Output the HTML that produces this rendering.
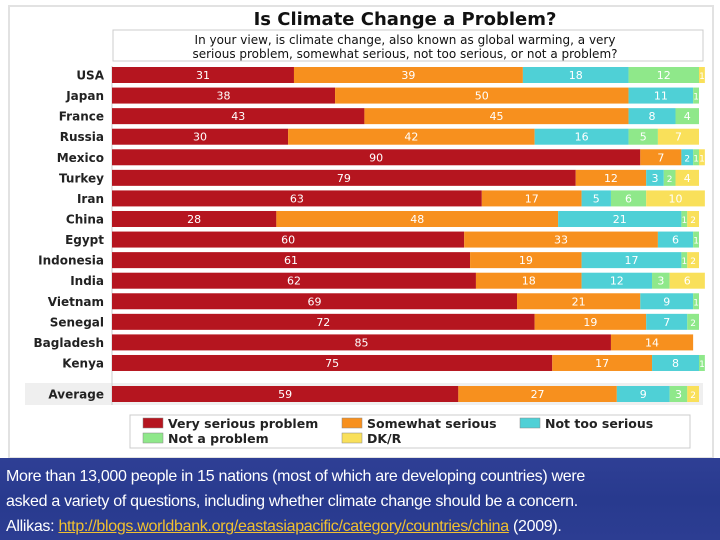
<!DOCTYPE html>
<html><head><meta charset="utf-8"><style>
html,body{margin:0;padding:0;width:720px;height:540px;overflow:hidden;background:#fff;font-family:"DejaVu Sans","Liberation Sans",sans-serif}
#card{position:absolute;left:8px;top:5px;width:702px;height:450px;border:2px solid #e2e2e2;background:#fff}
#band{position:absolute;left:0;top:458px;width:720px;height:82px;background:linear-gradient(180deg,#2f3f95,#283a8e 50%,#2c3d92)}
#band p{margin:0;position:absolute;left:6px;top:6px;color:#fff;font-family:"Liberation Sans",sans-serif;font-size:16px;line-height:25px;letter-spacing:-0.3px}
#band a{color:#f0c030;text-decoration:underline}
</style></head><body>
<div id="card"></div>
<svg id="chart" width="720" height="458" style="position:absolute;left:0;top:0">
<text x="405" y="25" text-anchor="middle" font-size="18" font-weight="bold" fill="#111">Is Climate Change a Problem?</text>
<rect x="113" y="30" width="590" height="31" fill="#fff" stroke="#ccc"/>
<text x="405" y="44" text-anchor="middle" font-size="12" fill="#111">In your view, is climate change, also known as global warming, a very</text>
<text x="405" y="58" text-anchor="middle" font-size="12" fill="#111">serious problem, somewhat serious, not too serious, or not a problem?</text>
<rect x="25" y="383" width="678" height="22" fill="#efefef"/>
<line x1="112" y1="66" x2="112" y2="405" stroke="#ccc"/>
<g id="bars"></g>
<rect x="130" y="415" width="560" height="33" fill="#fff" stroke="#ccc"/>
<g id="legend"></g>
</svg>
<div id="band"><p>More than 13,000 people in 15 nations (most of which are developing countries) were<br>asked a variety of questions, including whether climate change should be a concern.<br>Allikas: <a href="#">http://blogs.worldbank.org/eastasiapacific/category/countries/china</a> (2009).</p></div>
<script>
const countries=["USA","Japan","France","Russia","Mexico","Turkey","Iran","China","Egypt","Indonesia","India","Vietnam","Senegal","Bagladesh","Kenya","Average"];
const verySerious=[31,38,43,30,90,79,63,28,60,61,62,69,72,85,75,59];
const somewhatSerious=[39,50,45,42,7,12,17,48,33,19,18,21,19,14,17,27];
const notTooSerious=[18,11,8,16,2,3,5,21,6,17,12,9,7,0,8,9];
const notAProblem=[12,1,4,5,1,2,6,1,1,1,3,1,2,0,1,3];
const dkR=[1,0,0,7,1,4,10,2,0,2,6,0,0,0,0,2];
const seriesNames=["Very serious problem","Somewhat serious","Not too serious","Not a problem","DK/R"];
const series=[verySerious,somewhatSerious,notTooSerious,notAProblem,dkR];
const colors=["#b5151f","#f7901e","#4fd0d6","#8fe88a","#f9e05a"];
const NS="http://www.w3.org/2000/svg";
const x0=112,ppu=5.87;
const xs=v=>x0+v*ppu;
const yRow=i=>i<15?75+i*20.57:394;
const g=document.getElementById('bars');
function mk(t,a){const e=document.createElementNS(NS,t);for(const k in a)e.setAttribute(k,a[k]);return e;}
countries.forEach((c,i)=>{
  const yc=yRow(i);
  const lab=mk('text',{x:104,y:yc+4.5,'text-anchor':'end','font-size':12,'font-weight':'bold',fill:'#222'});
  lab.textContent=c;
  
  
  g.appendChild(lab);
  let cum=0;
  series.forEach((s,k)=>{
    const v=s[i];if(!v)return;
    const r=mk('rect',{x:xs(cum),y:yc-8,width:v*ppu,height:16,fill:colors[k]});
    
    
    g.appendChild(r);
    const t=mk('text',{x:xs(cum+v/2),y:yc+4,'text-anchor':'middle','font-size':v<3?9:11,fill:'#fff'});
    t.textContent=v;
    
    
    g.appendChild(t);
    cum+=v;
  });
});
const lg=document.getElementById('legend');
const lpos=[[143,428],[342,428],[520,428],[143,443],[342,443]];
seriesNames.forEach((n,k)=>{
  const [lx,ly]=lpos[k];
  const r=mk('rect',{x:lx,y:ly-10,width:20,height:10,fill:colors[k],stroke:'#888','stroke-width':0.5});
  
  
  lg.appendChild(r);
  const t=mk('text',{x:lx+25,y:ly,'font-size':12.5,'font-weight':'bold',fill:'#222'});
  t.textContent=n;
  
  
  lg.appendChild(t);
});
</script>
</body></html>
